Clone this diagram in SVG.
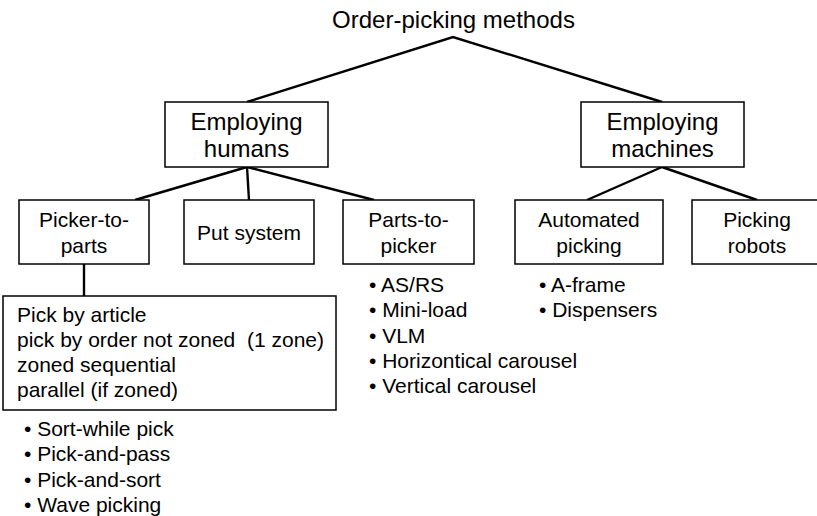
<svg xmlns="http://www.w3.org/2000/svg" width="817" height="516" viewBox="0 0 817 516">
  <style>
    text { font-family: "Liberation Sans", Arial, Helvetica, sans-serif; fill: #000; }
    .title { font-size: 24px; }
    .l1 { font-size: 24px; text-anchor: middle; }
    .l2 { font-size: 21px; text-anchor: middle; }
    .list { font-size: 21px; }
    .box { fill: #fff; stroke: #000; stroke-width: 1.5; }
    .edge { fill: none; stroke: #000; stroke-width: 2.4; stroke-linejoin: miter; }
  </style>
  <rect width="817" height="516" fill="#fff"/>

  <!-- connectors -->
  <g id="connectors">
    <polyline class="edge" points="247,102 453,37 662,102"/>
    <line class="edge" x1="247" y1="167" x2="135" y2="200"/>
    <line class="edge" x1="247" y1="167" x2="249" y2="200"/>
    <line class="edge" x1="247" y1="167" x2="374" y2="200"/>
    <line class="edge" x1="662" y1="167" x2="587" y2="200"/>
    <line class="edge" x1="662" y1="167" x2="757" y2="200"/>
    <line class="edge" x1="84" y1="264" x2="84" y2="296"/>
  </g>

  <!-- root -->
  <g id="root">
    <text class="title" x="453.5" y="28" text-anchor="middle">Order-picking methods</text>
  </g>

  <!-- level 1 -->
  <g id="employing-humans">
    <rect class="box" x="165" y="102" width="163" height="65"/>
    <text class="l1" x="246.5" y="129.5">Employing</text>
    <text class="l1" x="246.5" y="157">humans</text>
  </g>
  <g id="employing-machines">
    <rect class="box" x="581" y="102" width="163" height="65"/>
    <text class="l1" x="662.5" y="129.5">Employing</text>
    <text class="l1" x="662.5" y="157">machines</text>
  </g>

  <!-- level 2 -->
  <g id="picker-to-parts">
    <rect class="box" x="19" y="200" width="130" height="64"/>
    <text class="l2" x="84" y="227">Picker-to-</text>
    <text class="l2" x="84" y="253">parts</text>
  </g>
  <g id="put-system">
    <rect class="box" x="184" y="200" width="130" height="64"/>
    <text class="l2" x="249" y="240">Put system</text>
  </g>
  <g id="parts-to-picker">
    <rect class="box" x="343" y="200" width="131" height="64"/>
    <text class="l2" x="408.5" y="227">Parts-to-</text>
    <text class="l2" x="408.5" y="253">picker</text>
  </g>
  <g id="automated-picking">
    <rect class="box" x="515" y="200" width="148" height="64"/>
    <text class="l2" x="589" y="227">Automated</text>
    <text class="l2" x="589" y="253">picking</text>
  </g>
  <g id="picking-robots">
    <rect class="box" x="692" y="200" width="132" height="64"/>
    <text class="l2" x="757" y="227">Picking</text>
    <text class="l2" x="757" y="253">robots</text>
  </g>

  <!-- picker-to-parts variants -->
  <g id="picker-variants">
    <rect class="box" x="3" y="296" width="333" height="114"/>
    <text class="list" x="17" y="322">Pick by article</text>
    <text class="list" x="17" y="347" xml:space="preserve">pick by order not zoned  (1 zone)</text>
    <text class="list" x="17" y="372">zoned sequential</text>
    <text class="list" x="17" y="397">parallel (if zoned)</text>
  </g>

  <!-- bullet lists -->
  <g id="picker-list">
    <text class="list" x="24" y="436">• Sort-while pick</text>
    <text class="list" x="24" y="461.3">• Pick-and-pass</text>
    <text class="list" x="24" y="486.6">• Pick-and-sort</text>
    <text class="list" x="24" y="512">• Wave picking</text>
  </g>
  <g id="parts-list">
    <text class="list" x="369" y="292">• AS/RS</text>
    <text class="list" x="369" y="317.3">• Mini-load</text>
    <text class="list" x="369" y="342.6">• VLM</text>
    <text class="list" x="369" y="368">• Horizontical carousel</text>
    <text class="list" x="369" y="393.3">• Vertical carousel</text>
  </g>
  <g id="automated-list">
    <text class="list" x="539" y="292">• A-frame</text>
    <text class="list" x="539" y="317.3">• Dispensers</text>
  </g>
</svg>
